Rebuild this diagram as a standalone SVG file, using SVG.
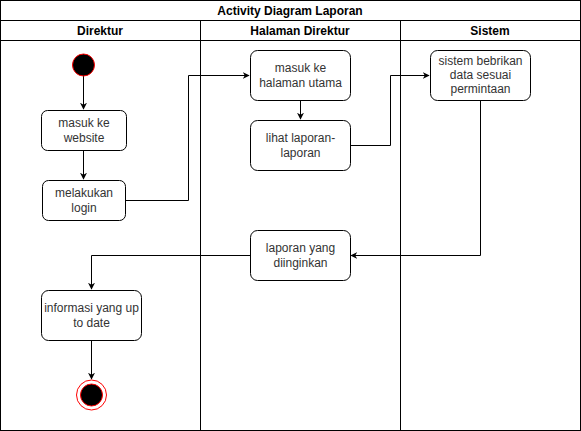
<svg xmlns="http://www.w3.org/2000/svg" width="581" height="431" viewBox="0 0 581 431">
<style>
.lane{fill:none;stroke:#000;stroke-width:1}
.hdr{font-family:"Liberation Sans",Arial,sans-serif;font-size:12px;font-weight:bold;fill:#000;text-anchor:middle}
.node rect{fill:#fff;stroke:#000;stroke-width:1}
.lbl{font-family:"Liberation Sans",Arial,sans-serif;font-size:12px;fill:#333;text-anchor:middle}
.edge{fill:none;stroke:#000;stroke-width:1}
</style>
<defs>
<marker id="arr" viewBox="0 0 10 10" refX="9" refY="5" markerWidth="7" markerHeight="7" orient="auto" markerUnits="userSpaceOnUse">
<path d="M0,0 L10,5 L0,10 L3,5 Z" fill="#000"/>
</marker>
</defs>
<rect width="581" height="431" fill="#fff"/>
<g id="pool">
<rect class="lane" x="0.5" y="0.5" width="580" height="430"/>
<line class="lane" x1="0.5" y1="20.5" x2="580.5" y2="20.5"/>
<line class="lane" x1="0.5" y1="40.5" x2="580.5" y2="40.5"/>
<line class="lane" x1="200.5" y1="20.5" x2="200.5" y2="430.5"/>
<line class="lane" x1="400.5" y1="20.5" x2="400.5" y2="430.5"/>
<text class="hdr" x="290" y="15">Activity Diagram Laporan</text>
<text class="hdr" x="100" y="35">Direktur</text>
<text class="hdr" x="300" y="35">Halaman Direktur</text>
<text class="hdr" x="490" y="35">Sistem</text>
</g>
<g id="edges">
<path class="edge" d="M83.5,76 L83.5,109" marker-end="url(#arr)"/>
<path class="edge" d="M83.5,150 L83.5,179" marker-end="url(#arr)"/>
<path class="edge" d="M126,200.5 L188.5,200.5 L188.5,75.5 L249,75.5" marker-end="url(#arr)"/>
<path class="edge" d="M300.5,100 L300.5,119" marker-end="url(#arr)"/>
<path class="edge" d="M350,145.5 L390.5,145.5 L390.5,75.5 L429,75.5" marker-end="url(#arr)"/>
<path class="edge" d="M480.5,100 L480.5,255.5 L351,255.5" marker-end="url(#arr)"/>
<path class="edge" d="M250,255.5 L91.5,255.5 L91.5,289" marker-end="url(#arr)"/>
<path class="edge" d="M91.5,340 L91.5,379" marker-end="url(#arr)"/>
</g>
<g id="start"><circle cx="83.5" cy="65" r="11" fill="#000" stroke="#f00" stroke-width="1"/></g>
<g id="n1" class="node"><rect x="41.5" y="110.5" width="85" height="40" rx="6"/><text class="lbl" x="84" y="127">masuk ke</text><text class="lbl" x="84" y="142">website</text></g>
<g id="n2" class="node"><rect x="42.5" y="180.5" width="83" height="40" rx="6"/><text class="lbl" x="84" y="197">melakukan</text><text class="lbl" x="84" y="212">login</text></g>
<g id="n3" class="node"><rect x="250.5" y="50.5" width="100" height="50" rx="7"/><text class="lbl" x="300.5" y="72">masuk ke</text><text class="lbl" x="300.5" y="87">halaman utama</text></g>
<g id="n4" class="node"><rect x="250.5" y="120.5" width="100" height="50" rx="7"/><text class="lbl" x="300.5" y="142">lihat laporan-</text><text class="lbl" x="300.5" y="157">laporan</text></g>
<g id="n5" class="node"><rect x="430.5" y="50.5" width="100" height="50" rx="7"/><text class="lbl" x="480.5" y="65">sistem bebrikan</text><text class="lbl" x="480.5" y="79">data sesuai</text><text class="lbl" x="480.5" y="93">permintaan</text></g>
<g id="n6" class="node"><rect x="250.5" y="230.5" width="100" height="50" rx="7"/><text class="lbl" x="300.5" y="252">laporan yang</text><text class="lbl" x="300.5" y="267">diinginkan</text></g>
<g id="n7" class="node"><rect x="41.5" y="290.5" width="100" height="50" rx="7"/><text class="lbl" x="91.5" y="312">informasi yang up</text><text class="lbl" x="91.5" y="327">to date</text></g>
<g id="end"><circle cx="91.5" cy="395" r="15" fill="#fff" stroke="#f00" stroke-width="1"/><circle cx="91.5" cy="395" r="11" fill="#000" stroke="#f00" stroke-width="1"/></g>
</svg>
